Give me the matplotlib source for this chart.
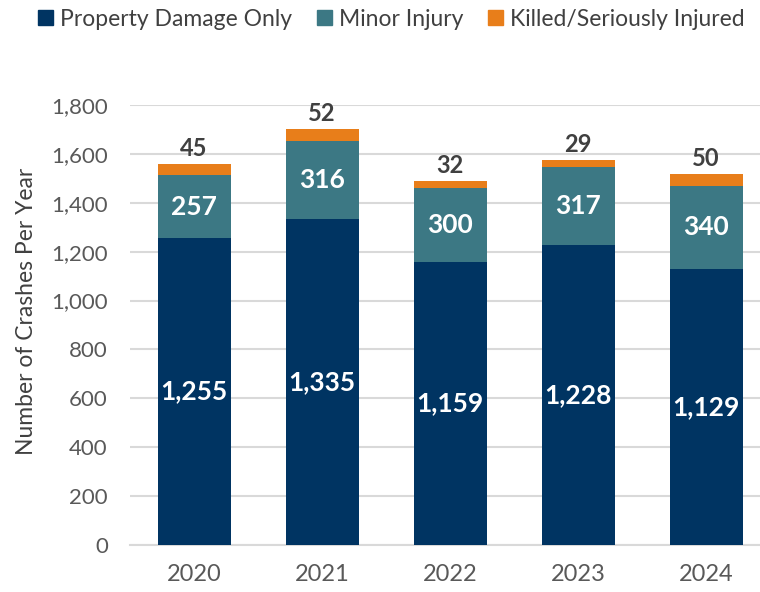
import matplotlib.pyplot as plt
import matplotlib.patches as mpatches
import numpy as np

years = ["2020", "2021", "2022", "2023", "2024"]
pdo = [1255, 1335, 1159, 1228, 1129]
minor = [257, 316, 300, 317, 340]
ksi = [45, 52, 32, 29, 50]

series_names = ["Property Damage Only", "Minor Injury", "Killed/Seriously Injured"]
colors = ["#003462", "#3c7884", "#e87e1a"]

plt.rcParams["font.family"] = ["Lato", "DejaVu Sans"]

fig = plt.figure(figsize=(7.6, 5.92), dpi=100)
ax = fig.add_axes([130 / 760, 47 / 592, 630 / 760, 440 / 592])

x = np.arange(len(years))
w = 0.57
pdo = np.array(pdo)
minor = np.array(minor)
ksi = np.array(ksi)

ax.bar(x, pdo, w, color=colors[0], zorder=3)
ax.bar(x, minor, w, bottom=pdo, color=colors[1], zorder=3)
ax.bar(x, ksi, w, bottom=pdo + minor, color=colors[2], zorder=3)

# labels
for i in range(len(years)):
    ax.text(x[i], pdo[i] / 2, f"{pdo[i]:,}", ha="center", va="center",
            color="white", fontsize=19, fontweight="bold", zorder=4)
    ax.text(x[i], pdo[i] + minor[i] / 2, f"{minor[i]:,}", ha="center", va="center",
            color="white", fontsize=19, fontweight="bold", zorder=4)
    ax.text(x[i], pdo[i] + minor[i] + ksi[i] + 16, f"{ksi[i]}", ha="center", va="bottom",
            color="#404040", fontsize=17, fontweight="bold", zorder=4)

ax.set_xlim(-0.5, 4.42)
ax.set_ylim(0, 1800)
ax.set_yticks(np.arange(0, 1801, 200))
ax.set_yticklabels([f"{v:,}" for v in range(0, 1801, 200)])
ax.set_xticks(x)
ax.set_xticklabels(years)
ax.tick_params(axis="both", length=0, labelcolor="#595959")
ax.tick_params(axis="x", pad=14, labelsize=17)
ax.tick_params(axis="y", pad=16, labelsize=16)
ax.yaxis.grid(True, color="#d9d9d9", linewidth=1.5, zorder=0)
for s in ["top", "right", "left"]:
    ax.spines[s].set_visible(False)
ax.spines["bottom"].set_color("#d9d9d9")
ax.spines["bottom"].set_linewidth(1.5)

ax.set_ylabel("Number of Crashes Per Year", fontsize=16.5, color="#404040", va="center")
ax.yaxis.set_label_coords(-0.165, 0.53)

handles = [mpatches.Patch(color=c, label=n) for c, n in zip(colors, series_names)]
fig.legend(handles=handles, loc="upper center", bbox_to_anchor=(0.515, 1.02), ncol=3,
           frameon=False, fontsize=16.5, handlelength=0.65, handleheight=0.65,
           handletextpad=0.3, columnspacing=1.1, labelcolor="#404040")

plt.savefig("out.png", dpi=100)
